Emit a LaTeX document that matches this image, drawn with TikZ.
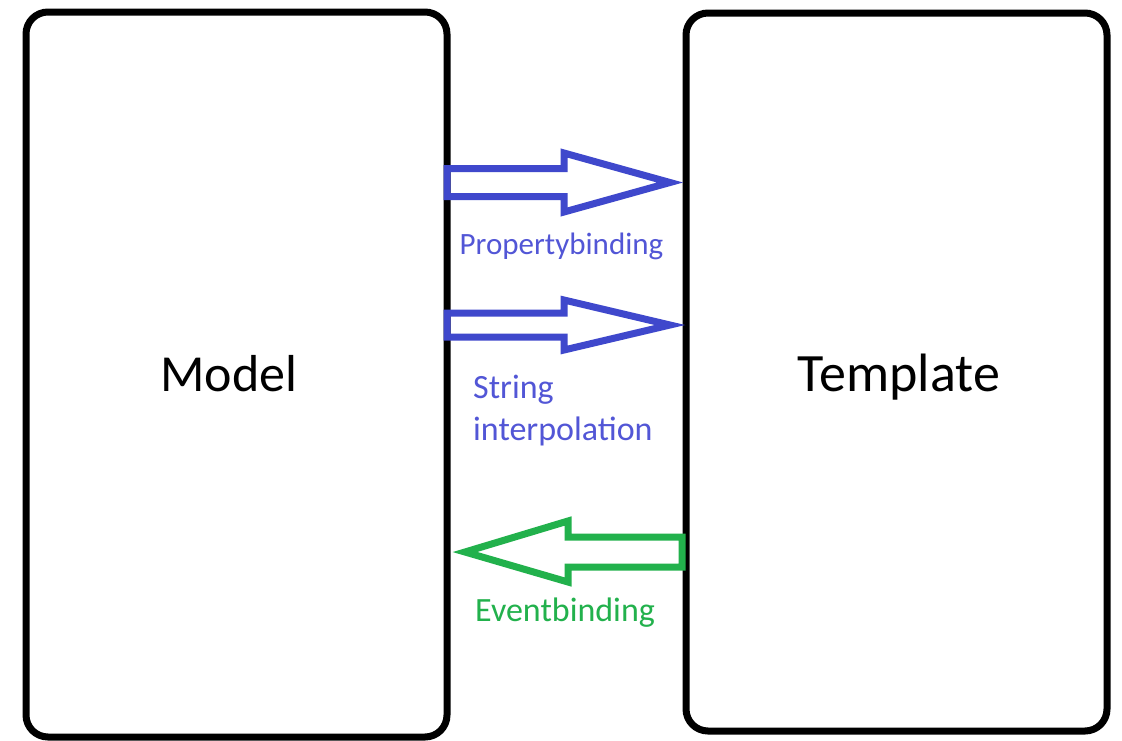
\documentclass[tikz,border=0pt]{standalone}
\usepackage{fontspec}
\setmainfont{Carlito}
\usetikzlibrary{calc}
\definecolor{bindblue}{RGB}{63,72,204}
\definecolor{bindbluetext}{RGB}{82,86,214}
\definecolor{bindgreen}{RGB}{34,177,76}
\begin{document}
\begin{tikzpicture}[x=1pt,y=-1pt,
  panel/.style={draw=black, line width=7pt, rounded corners=22pt,
    inner sep=0pt, outer sep=0pt, fill=white},
  bigword/.style={font=\fontsize{52}{60}\selectfont, text=black, anchor=base, inner sep=0pt},
  blockarrow/.style={line width=7pt, line join=miter, miter limit=10},
  caption/.style={font=\fontsize{31}{42}\selectfont, inner sep=0pt},
  widecaption/.style={font=\fontsize{34}{42}\selectfont, inner sep=0pt}]
\useasboundingbox (0,0) rectangle (1122,740);
\fill[white] (0,0) rectangle (1122,740);

% the two panels
\node[panel, minimum width=421pt, minimum height=725pt] (model) at (236.5,374.5) {};
\node[panel, minimum width=421pt, minimum height=718pt] (template) at (896.5,372) {};
\node[bigword] (modeltxt) at (229,391) {Model};
\node[bigword, font=\fontsize{54}{60}\selectfont] (templatetxt) at (899,391) {Template};

% property binding arrow (model -> template)
\coordinate (pb) at (model.east |- 0,182.5);
\draw[blockarrow, bindblue]
  ($(pb)+(0,-14)$) -- ++(117,0) -- ++(0,-15.5) -- ($(template.west |- pb)+(-16,0)$)
  -- ($(pb)+(117,29.5)$) -- ++(0,-15.5) -- ($(pb)+(0,14)$) -- cycle;
\node[caption, text=bindbluetext, anchor=base] (pbtxt) at (561.5,254) {Propertybinding};

% string interpolation arrow (model -> template)
\coordinate (si) at (model.east |- 0,325);
\draw[blockarrow, bindblue]
  ($(si)+(0,-12)$) -- ++(117,0) -- ++(0,-13) -- ($(template.west |- si)+(-16,0)$)
  -- ($(si)+(117,25)$) -- ++(0,-13) -- ($(si)+(0,12)$) -- cycle;
\node[widecaption, text=bindbluetext, anchor=base west] (sitxt1) at (473,398) {String};
\node[widecaption, text=bindbluetext, anchor=base west] (sitxt2) at (473,440) {interpolation};

% event binding arrow (template -> model)
\coordinate (eb) at (template.west |- 0,552);
\draw[blockarrow, bindgreen]
  ($(eb)+(-4,-15)$) -- ($(eb)+(-118,-15)$) -- ++(0,-16) -- ($(model.east |- eb)+(18,0)$)
  -- ($(eb)+(-118,30)$) -- ++(0,-15) -- ($(eb)+(-4,15)$) -- cycle;
\node[widecaption, text=bindgreen, anchor=base west] (ebtxt) at (475,621) {Eventbinding};
\end{tikzpicture}
\end{document}
